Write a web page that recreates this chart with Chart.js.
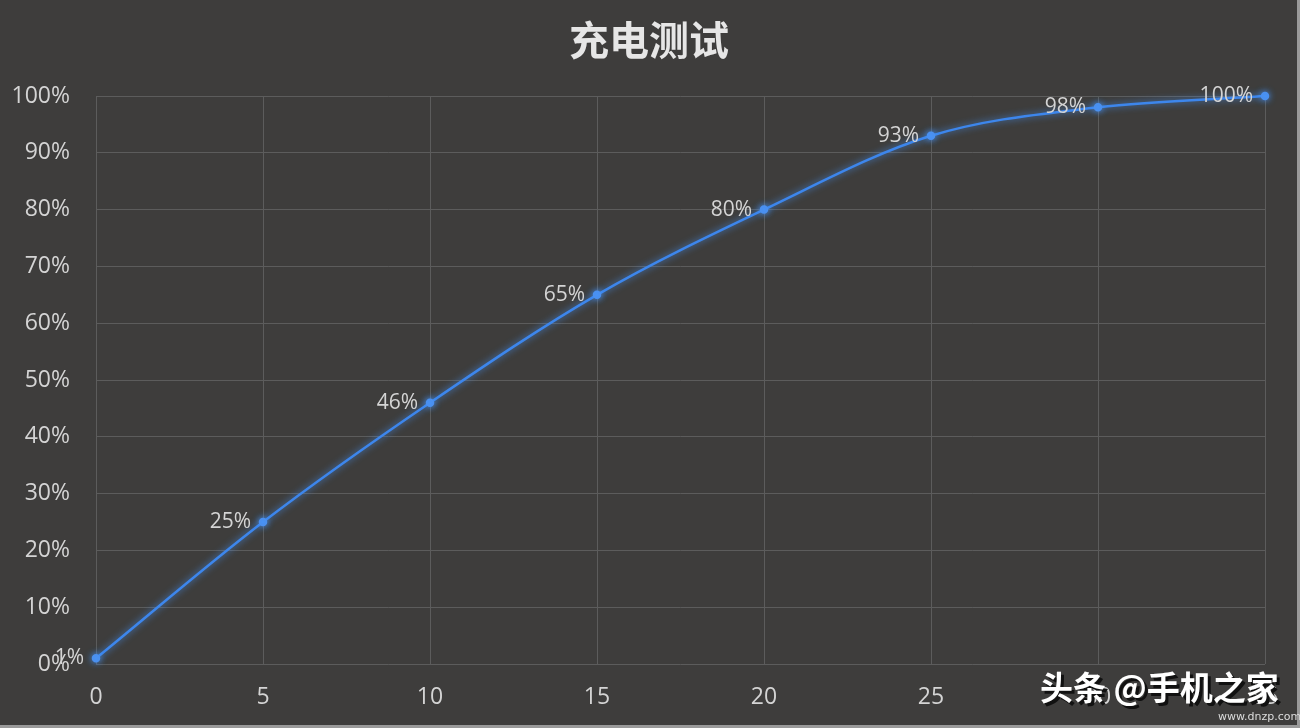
<!DOCTYPE html>
<html><head><meta charset="utf-8">
<script src="https://cdn.jsdelivr.net/npm/chart.js@4/dist/chart.umd.min.js"></script>
<style>html,body{margin:0;padding:0;background:#3e3d3c;}#wrap{width:1300px;height:728px;}</style>
</head><body><div id="wrap"><canvas id="c" width="1300" height="728"></canvas></div>
<script>
const titleText = '充电测试';
const minutes = [0, 5, 10, 15, 20, 25, 30, 35];
const charge = [1, 25, 46, 65, 80, 93, 98, 100];
const pointLabels = ['1%', '25%', '46%', '65%', '80%', '93%', '98%', '100%'];
const watermark = '头条 @手机之家';

const bgPlugin = {
  id: 'bg',
  beforeDraw(chart) {
    const ctx = chart.ctx;
    ctx.save();
    ctx.fillStyle = '#3e3d3c';
    ctx.fillRect(0, 0, chart.width, chart.height);
    ctx.restore();
  },
  afterDraw(chart) {
    const ctx = chart.ctx;
    ctx.save();
    // title
    ctx.fillStyle = '#e6e6e6';
    ctx.font = 'bold 40px "Noto Sans CJK SC"';
    ctx.textAlign = 'center';
    ctx.textBaseline = 'middle';
    ctx.fillText(titleText, 649, 40);
    // frame lines
    ctx.fillStyle = '#9a9a9a';
    ctx.fillRect(0, 725, 1300, 3);
    ctx.fillRect(1297, 0, 3, 728);
    // watermark
    ctx.font = 'bold 33px "Noto Sans CJK SC"';
    ctx.textAlign = 'left';
    ctx.textBaseline = 'alphabetic';
    ctx.fillStyle = '#111';
    ctx.fillText(watermark, 1043, 703);
    ctx.fillStyle = '#ffffff';
    ctx.fillText(watermark, 1040, 700);
    ctx.font = '11px "DejaVu Sans"';
    ctx.fillStyle = '#dddddd';
    ctx.fillText('www.dnzp.com', 1218, 720);
    ctx.restore();
  }
};

const glowPlugin = {
  id: 'glow',
  beforeDatasetDraw(chart) {
    const ctx = chart.ctx;
    ctx.save();
    ctx.shadowColor = 'rgba(70,150,255,0.85)';
    ctx.shadowBlur = 7;
  },
  afterDatasetDraw(chart) {
    chart.ctx.restore();
  },
  afterDatasetsDraw(chart) {
    const ctx = chart.ctx;
    const meta = chart.getDatasetMeta(0);
    ctx.save();
    ctx.fillStyle = '#d4d4d4';
    ctx.font = '21px "Open Sans"';
    ctx.textAlign = 'right';
    ctx.textBaseline = 'middle';
    meta.data.forEach((pt, i) => {
      ctx.fillText(pointLabels[i], pt.x - 12, pt.y);
    });
    ctx.restore();
  }
};

new Chart(document.getElementById('c'), {
  type: 'line',
  data: {
    datasets: [{
      data: minutes.map((m, i) => ({x: m, y: charge[i]})),
      borderColor: '#3d86ec',
      borderWidth: 2.5,
      pointRadius: 3,
      pointBackgroundColor: '#4a90f0',
      pointBorderColor: '#4a90f0',
      cubicInterpolationMode: 'monotone',
      clip: false,
      fill: false
    }]
  },
  options: {
    responsive: false,
    animation: false,
    events: [],
    layout: { padding: { left: 0, top: 96, right: 35, bottom: 0 } },
    plugins: { legend: { display: false }, tooltip: { enabled: false }, title: { display: false } },
    scales: {
      x: {
        type: 'linear', min: 0, max: 35,
        ticks: { stepSize: 5, color: '#d4d4d4', font: { size: 23, family: 'Open Sans' }, padding: 20, maxRotation: 0 },
        grid: { color: '#5c5c5c', lineWidth: 1, drawTicks: false },
        border: { display: false },
        afterFit(s) { s.height = 64; }
      },
      y: {
        min: 0, max: 100,
        ticks: { stepSize: 10, color: '#d4d4d4', font: { size: 23, family: 'Open Sans' }, padding: 26, callback: v => v + '%' },
        grid: { color: '#5c5c5c', lineWidth: 1, drawTicks: false },
        border: { display: false },
        afterFit(s) { s.width = 96; }
      }
    }
  },
  plugins: [bgPlugin, glowPlugin]
});
</script></body></html>
